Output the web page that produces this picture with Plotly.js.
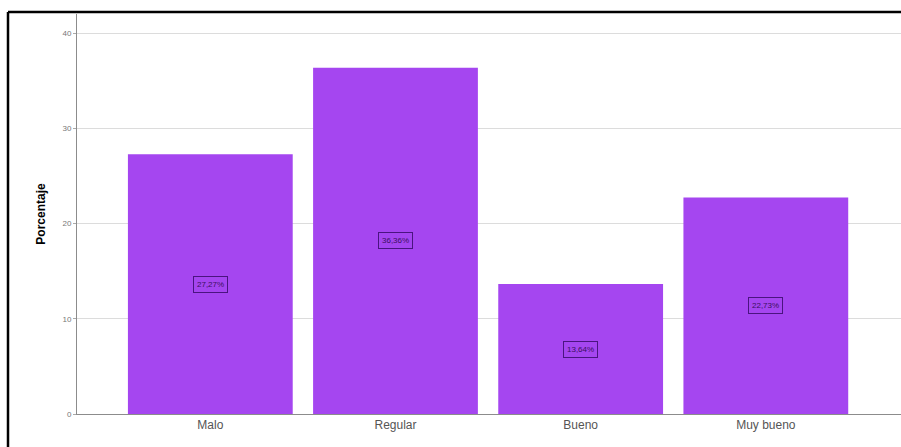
<!DOCTYPE html>
<html>
<head>
<meta charset="utf-8">
<script src="https://cdn.plot.ly/plotly-3.0.1.min.js"></script>
<style>
html,body{margin:0;padding:0;background:#fff;}
#chart{width:901px;height:447px;}
</style>
</head>
<body>
<div id="chart"></div>
<script>
const categories = ["Malo", "Regular", "Bueno", "Muy bueno"];
const values = [27.27, 36.36, 13.64, 22.73];
const labels = ["27,27%", "36,36%", "13,64%", "22,73%"];
const yTicks = [0, 10, 20, 30, 40];

const trace = {
  type: "bar",
  x: categories,
  y: values,
  width: 0.89,
  marker: {color: "#A546F0", line: {width: 0}},
  hoverinfo: "none"
};

const annotations = categories.map((c, i) => ({
  x: c, y: values[i] / 2, xref: "x", yref: "y",
  text: labels[i], showarrow: false,
  font: {family: "Liberation Sans, Arial, sans-serif", size: 8, color: "#3a1060"},
  bordercolor: "#4a1480", borderwidth: 1, borderpad: 3
}));

const layout = {
  width: 901, height: 447,
  margin: {l: 77, r: 0, t: 14, b: 33, pad: 0},
  paper_bgcolor: "#ffffff",
  plot_bgcolor: "#ffffff",
  showlegend: false,
  xaxis: {
    type: "category",
    range: [-0.72, 3.73],
    showgrid: false,
    showline: true, linecolor: "#8c8c8c", linewidth: 1,
    ticks: "", tickfont: {family: "Liberation Sans, Arial, sans-serif", size: 12, color: "#555"},
    fixedrange: true
  },
  yaxis: {
    range: [0, 42],
    tickvals: yTicks,
    ticktext: yTicks.map(String),
    showgrid: true, gridcolor: "#dcdcdc", gridwidth: 1,
    zeroline: false,
    showline: true, linecolor: "#8c8c8c", linewidth: 1,
    ticks: "outside", ticklen: 3, tickcolor: "#aaaaaa",
    tickfont: {family: "Liberation Sans, Arial, sans-serif", size: 8, color: "#777"},
    title: {text: "Porcentaje", font: {family: "Liberation Sans, Arial, sans-serif", size: 12, color: "#000", weight: "bold"}, standoff: 14},
    fixedrange: true
  },
  bargap: 0.11,
  annotations: annotations,
  shapes: [
    {type: "line", xref: "paper", yref: "paper", x0: -69/824, x1: 1.01, y0: 1.005, y1: 1.005, line: {color: "#000", width: 2.5}},
    {type: "line", xref: "paper", yref: "paper", x0: -69/824, x1: -69/824, y0: 1.005, y1: -0.2, line: {color: "#000", width: 2.5}}
  ]
};

Plotly.newPlot("chart", [trace], layout, {displayModeBar: false, staticPlot: true});
</script>
</body>
</html>
